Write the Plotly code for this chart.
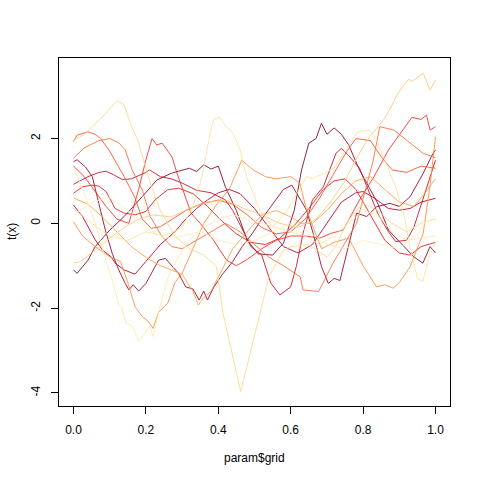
import plotly.graph_objects as go

# ---- data (param$grid vs t(x)) ----
c1_x = [0, .01, .04, .06, .10, .14, .19, .23, .27, .30, .32, .34, .36, .38, .40, .42, .45, .48, .51, .55, .58, .61, .63, .65, .67, .685, .70, .72, .74, .76, .79, .84, .87, .90, .94, .965, .985, 1.0]
c1_y = [-1.1, -1.18, -0.87, -0.55, -0.16, 0.16, 0.63, 1.02, 1.18, 1.25, 1.3, 1.22, 1.38, 1.28, 1.35, 0.85, 0.3, -0.4, -0.72, -0.75, -0.47, 0.31, 1.26, 1.89, 2.0, 2.36, 2.1, 2.25, 2.1, 1.85, 1.26, 0.48, -0.16, -0.43, -0.79, -0.94, -0.55, -0.7]

c2_x = [0, .01, .033, .052, .07, .088, .107, .125, .143, .153, .165, .18, .20, .235, .254, .29, .31, .33, .347, .36, .37, .388, .41, .44, .466, .494, .52, .55, .58, .603, .625, .644, .662, .685, .704, .72, .736, .754, .782, .81, .837, .874, .90, .93, .966, .993, 1.0]
c2_y = [1.45, 1.5, 1.33, 1.1, 0.47, -0.16, -0.71, -1.1, -1.42, -1.57, -1.45, -1.6, -1.42, -0.87, -0.83, -1.18, -1.5, -1.55, -1.81, -1.6, -1.81, -1.5, -1.22, -0.9, -0.55, -0.24, 0.1, 0.45, 0.8, 0.9, 0.6, 0.31, -0.24, -1.02, -1.42, -1.3, -1.35, -0.71, 0.24, 0.16, 0.39, 0.47, 0.4, 0.63, 1.18, 1.65, 1.73]

c3_x = [0, .025, .06, .08, .105, .115, .14, .17, .2, .24, .28, .31, .34, .37, .40, .43, .46, .50, .54, .58, .62, .66, .70, .74, .78, .80, .83, .87, .90, .93, .96, 1.0]
c3_y = [0.43, 0.16, -0.39, -0.63, -0.8, -0.94, -1.1, -1.2, -0.9, -0.5, -0.2, 0.1, 0.35, 0.55, 0.72, 0.8, 0.7, 0.35, -0.1, -0.55, -0.7, -0.5, 0.0, 0.5, 0.72, 0.75, 0.6, 0.35, 0.31, 0.35, 0.5, 0.59]

c4_x = [0, .04, .07, .09, .11, .135, .16, .2, .21, .24, .27, .30, .34, .38, .42, .44, .47, .49, .52, .545, .57, .60, .616, .634, .66, .69, .725, .74, .76, .79, .84, .87, .89, .92, .94, .97, 1.0]
c4_y = [0.92, 1.1, 1.2, 1.23, 1.15, 1.03, 1.05, 1.2, 1.26, 1.1, 1.05, 0.95, 0.78, 0.72, 0.55, 0.3, -0.2, -0.55, -0.75, -1.41, -1.69, -1.5, -1.0, -0.24, 0.55, 0.86, 1.65, 1.77, 1.6, 1.3, 0.24, -0.2, -0.43, -0.4, -0.1, 0.7, 1.49]

c5_x = [0, .025, .05, .07, .09, .115, .14, .17, .2, .225, .26, .29, .33, .37, .41, .45, .49, .53, .57, .61, .65, .69, .72, .75, .78, .82, .86, .90, .93, .96, 1.0]
c5_y = [0.71, 0.86, 0.9, 0.88, 0.75, 0.35, 0.24, 0.2, 0.28, 0.55, 0.79, 0.83, 0.7, 0.4, 0.05, -0.25, -0.45, -0.5, -0.35, -0.05, 0.35, 0.8, 1.0, 1.05, 0.8, 0.2, -0.4, -0.7, -0.75, -0.55, -0.45]

b_x = [0, .03, .06, .09, .12, .153, .18, .2, .217, .23, .245, .272, .286, .309, .325, .35, .386, .423, .45, .48, .52, .56, .60, .64, .68, .71, .745, .79, .83, .87, .91, .935, .96, .975, .985, 1.0]
b_y = [1.35, 1.1, 0.75, 0.4, 0.1, 0.0, 0.8, 1.5, 2.0, 1.85, 1.89, 1.57, 1.18, 0.63, 0.24, 0.0, -0.39, -0.87, -1.0, -0.85, -0.6, -0.4, -0.3, -0.3, -0.35, -0.24, -0.16, 0.55, 1.1, 1.73, 2.2, 2.5, 2.45, 2.55, 2.2, 2.28]

a_x = [0, .01, .04, .06, .075, .1, .14, .17, .19, .215, .24, .27, .31, .35, .40, .44, .48, .52, .56, .60, .64, .68, .72, .755, .78, .82, .85, .88, .92, .96, 1.0]
a_y = [1.93, 2.08, 2.16, 2.1, 2.0, 1.7, 1.1, 0.6, 0.1, -0.12, -0.08, 0.08, 0.3, 0.45, 0.55, 0.45, 0.2, -0.1, -0.25, -0.2, 0.1, 0.6, 1.2, 1.7, 2.0, 1.95, 1.57, 1.26, 1.2, 1.35, 1.3]

o1_x = [0, .03, .07, .1, .125, .143, .162, .19, .212, .245, .272, .30, .34, .38, .42, .46, .50, .54, .58, .626, .634, .677, .717, .782, .828, .846, .885, .92, .966, 1.0]
o1_y = [1.54, 1.78, 1.95, 2.0, 1.9, 1.73, 1.26, 0.79, 0.16, -0.32, -0.55, -0.6, -0.4, -0.2, 0.0, -0.2, -0.5, -0.8, -1.0, -1.26, -1.57, -1.61, -0.94, 0.0, 1.49, 2.28, 2.2, 1.96, 1.65, 1.55]

o2_x = [0, .025, .06, .1, .13, .15, .17, .19, .205, .22, .235, .26, .28, .30, .33, .36, .40, .43, .465, .496, .53, .56, .60, .625, .644, .667, .685, .72, .76, .80, .837, .86, .883, .90, .93, .966, .985, 1.0]
o2_y = [0.04, -0.3, -0.55, -0.79, -0.9, -1.4, -1.97, -2.2, -2.3, -2.48, -2.1, -1.89, -1.4, -1.18, -0.6, 0.0, 0.5, 0.8, 1.49, 1.26, 1.1, 1.05, 1.1, 0.95, 0.31, -0.2, -0.6, -0.45, -0.35, -1.0, -1.5, -1.45, -1.53, -1.4, -1.02, -0.24, 0.9, 2.04]

o3_x = [0, .04, .08, .12, .16, .2, .24, .27, .30, .33, .345, .36, .38, .41, .44, .48, .52, .56, .60, .63, .66, .70, .74, .78, .82, .86, .90, .94, .97, 1.0]
o3_y = [0.6, 0.45, 0.15, -0.2, -0.55, -0.8, -1.0, -1.1, -1.2, -1.6, -1.93, -1.75, -1.6, -1.1, -0.6, -0.2, 0.2, 0.3, 0.15, 0.0, 0.0, 0.3, 0.7, 1.0, 1.1, 0.8, 0.5, 0.4, 0.7, 1.06]

y1_x = [0, .03, .06, .09, .12, .14, .157, .18, .21, .24, .28, .32, .36, .395, .413, .436, .45, .462, .48, .514, .54, .58, .60, .65, .70, .72, .76, .80, .84, .88, .92, .96, 1.0]
y1_y = [1.95, 2.1, 2.35, 2.6, 2.9, 2.8, 2.36, 1.9, 1.0, 0.3, -0.3, -0.6, -0.75, -1.02, -2.12, -2.99, -3.54, -3.97, -3.34, -2.2, -1.26, -0.63, -0.55, -0.5, -0.79, -0.6, 0.08, 0.47, 0.3, 0.0, -0.2, 0.0, 0.1]

y2_x = [0, .02, .06, .1, .14, .18, .22, .27, .32, .37, .42, .47, .52, .57, .62, .67, .71, .75, .78, .81, .841, .86, .883, .891, .912, .926, .935, .95, .966, .985, 1.0]
y2_y = [-0.94, -0.9, -0.63, -0.35, -0.1, 0.1, 0.2, 0.15, 0.35, 0.5, 0.55, 0.35, 0.2, 0.0, -0.1, 0.1, 0.5, 1.0, 1.5, 1.95, 2.28, 2.48, 2.84, 2.99, 3.26, 3.4, 3.35, 3.45, 3.54, 3.14, 3.38]

y3_x = [0, .03, .06, .09, .107, .125, .134, .145, .16, .181, .2, .21, .22, .235, .26, .29, .32, .36, .40, .44, .48, .52, .56, .60, .64, .68, .72, .76, .80, .84, .88, .92, .96, 1.0]
y3_y = [1.33, 0.7, 0.0, -0.9, -1.34, -1.9, -2.0, -2.36, -2.4, -2.79, -2.56, -2.43, -2.67, -2.1, -1.3, -0.8, -0.4, -0.1, 0.1, 0.2, 0.1, 0.0, -0.1, -0.2, -0.3, -0.5, -0.3, 0.0, 0.3, 0.2, -0.2, -0.4, -0.35, -0.3]

y4_x = [0, .05, .1, .15, .2, .25, .3, .33, .355, .37, .386, .404, .42, .441, .46, .478, .515, .55, .59, .626, .644, .66, .68, .72, .75, .785, .82, .837, .86, .89, .914, .93, .95, .965, .985, 1.0]
y4_y = [0.35, 0.0, -0.3, -0.4, -0.2, -0.3, -0.1, 0.4, 1.1, 1.8, 2.44, 2.51, 2.3, 2.12, 1.73, 1.1, 0.31, -0.1, 0.3, 0.83, 1.1, 1.05, 1.14, 1.3, 1.7, 2.16, 2.2, 1.96, 1.49, 0.86, 0.16, -0.6, -1.3, -1.36, -0.7, -0.45]

y5_x = [0, .05, .1, .15, .2, .25, .3, .35, .4, .45, .5, .55, .6, .65, .7, .75, .8, .85, .9, .95, .975, 1.0]
y5_y = [0.2, 0.5, 0.6, 0.3, -0.1, -0.35, -0.3, -0.2, -0.4, -0.5, -0.4, -0.2, 0.0, -0.2, -0.5, -0.6, -0.4, -0.5, -0.6, -0.25, 0.05, 0.12]

x_ticks = [0.0, 0.2, 0.4, 0.6, 0.8, 1.0]
y_ticks = [-4, -2, 0, 2]

series = [
    (c1_x, c1_y, "#800026"),
    (c2_x, c2_y, "#9a0026"),
    (c3_x, c3_y, "#b50026"),
    (c4_x, c4_y, "#cc0a22"),
    (c5_x, c5_y, "#e31a1c"),
    (b_x, b_y, "#f12f24"),
    (a_x, a_y, "#fc4e2a"),
    (o1_x, o1_y, "#fc6d33"),
    (o2_x, o2_y, "#fd8d3c"),
    (o3_x, o3_y, "#fea045"),
    (y1_x, y1_y, "#fed98a"),
    (y2_x, y2_y, "#fec97a"),
    (y4_x, y4_y, "#fee39a"),
    (y3_x, y3_y, "#ffeaa8"),
    (y5_x, y5_y, "#fff0b8"),
]

fig = go.Figure()
for xs, ys, col in series:
    fig.add_trace(go.Scatter(x=xs, y=ys, mode="lines", opacity=0.85,
                             line=dict(color=col, width=1),
                             showlegend=False, hoverinfo="skip"))

font = dict(family="Liberation Sans, Arial, sans-serif", size=12, color="black")
fig.update_layout(
    width=480, height=480,
    margin=dict(l=59, r=30, t=58, b=74),
    paper_bgcolor="white", plot_bgcolor="white",
    font=font,
    xaxis=dict(range=[-0.04, 1.04], tickvals=x_ticks, ticktext=[f"{v:.1f}" for v in x_ticks],
               showgrid=False, zeroline=False, showline=True, mirror=True,
               linecolor="black", linewidth=1, ticks="outside", ticklen=7,
               tickcolor="black", ticklabelstandoff=6),
    yaxis=dict(range=[-4.31, 3.90], tickvals=y_ticks, ticktext=[str(v) for v in y_ticks],
               showgrid=False, zeroline=False, showline=True, mirror=True,
               linecolor="black", linewidth=1, ticks="outside", ticklen=7,
               tickcolor="black", tickangle=-90, ticklabelstandoff=6),
    annotations=[
        dict(text="param$grid", xref="paper", yref="paper", x=0.5, y=0,
             xanchor="center", yanchor="middle", yshift=-52, showarrow=False, font=font),
        dict(text="t(x)", xref="paper", yref="paper", x=0, y=0.5,
             xanchor="center", yanchor="middle", xshift=-47, textangle=-90,
             showarrow=False, font=font),
    ],
)
fig.write_html("out.html")
